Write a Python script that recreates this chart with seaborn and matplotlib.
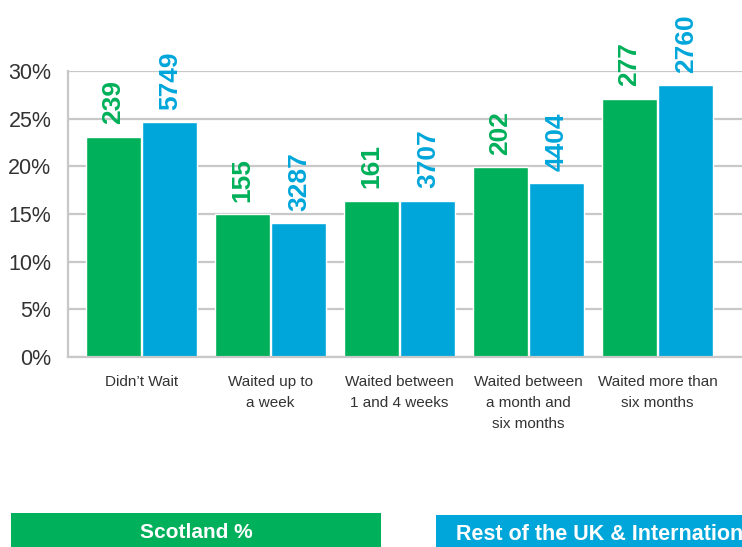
import matplotlib
matplotlib.use("Agg")
import matplotlib.pyplot as plt
from matplotlib.patches import Rectangle
import seaborn as sns
import pandas as pd

categories = ["Didn\u2019t Wait", "Waited up to\na week", "Waited between\n1 and 4 weeks",
              "Waited between\na month and\nsix months", "Waited more than\nsix months"]
scotland_pct = [23.1, 15.0, 16.4, 19.9, 27.1]
rest_pct = [24.65, 14.05, 16.4, 18.25, 28.5]
scotland_n = [239, 155, 161, 202, 277]
rest_n = [5749, 3287, 3707, 4404, 2760]
series_names = ["Scotland %", "Rest of the UK & International %"]
yticks = [0, 5, 10, 15, 20, 25, 30]

GREEN = "#00B05A"
BLUE = "#00A6DA"
GRID = "#C8C8C8"

sns.set_theme(style="white")
plt.rcParams["font.family"] = ["Liberation Sans", "DejaVu Sans"]

df = pd.DataFrame({
    "category": categories * 2,
    "pct": scotland_pct + rest_pct,
    "group": [series_names[0]] * 5 + [series_names[1]] * 5,
})

fig = plt.figure(figsize=(7.42, 5.47), dpi=100)
ax = fig.add_axes([68 / 742, 190 / 547, 1 - 68 / 742, (476 - 190) / 547])

sns.barplot(data=df, x="category", y="pct", hue="group", palette=[GREEN, BLUE],
            width=0.88, gap=0.03, saturation=1, legend=False, ax=ax, errorbar=None)

ax.set_xlim(-0.57, 4.655)
ax.set_ylim(0, 30)
ax.set_yticks(yticks)
ax.set_yticklabels([f"{v}%" for v in yticks], fontsize=15.5, color="#333333")
ax.yaxis.grid(True, color=GRID, linewidth=1.6)
ax.set_axisbelow(True)
ax.tick_params(axis="y", length=0, pad=12)
ax.set_xlabel("")
ax.set_ylabel("")

ax.set_xticks(range(len(categories)))
ax.set_xticklabels(categories, fontsize=11, color="#333333", linespacing=1.65)
ax.tick_params(axis="x", which="major", length=0, pad=13)
ax.set_xticks([-0.57, 0.5, 1.5, 2.5, 3.5, 4.5], minor=True)
ax.tick_params(axis="x", which="minor", length=6, width=1.2, color=GRID, direction="out")

for s in ["top", "right"]:
    ax.spines[s].set_visible(False)
for s in ["left", "bottom"]:
    ax.spines[s].set_color(GRID)
    ax.spines[s].set_linewidth(1.6)

for cont, labels, col in zip(ax.containers, [scotland_n, rest_n], [GREEN, BLUE]):
    ax.bar_label(cont, labels=[str(v) for v in labels], rotation=90, padding=9,
                 color=col, fontsize=19, fontweight="bold")

# legend boxes
fig.patches.append(Rectangle((11 / 742, 0), 370 / 742, 34 / 547, transform=fig.transFigure,
                             facecolor=GREEN, edgecolor="none"))
fig.patches.append(Rectangle((436 / 742, 0), 320 / 742, 32 / 547, transform=fig.transFigure,
                             facecolor=BLUE, edgecolor="none"))
fig.text(196 / 742, 14 / 547, series_names[0], color="white", fontsize=15,
         fontweight="bold", ha="center", va="center")
fig.text(456 / 742, 13 / 547, series_names[1], color="white", fontsize=15.5,
         fontweight="bold", ha="left", va="center")

fig.savefig("out.png", dpi=100)
